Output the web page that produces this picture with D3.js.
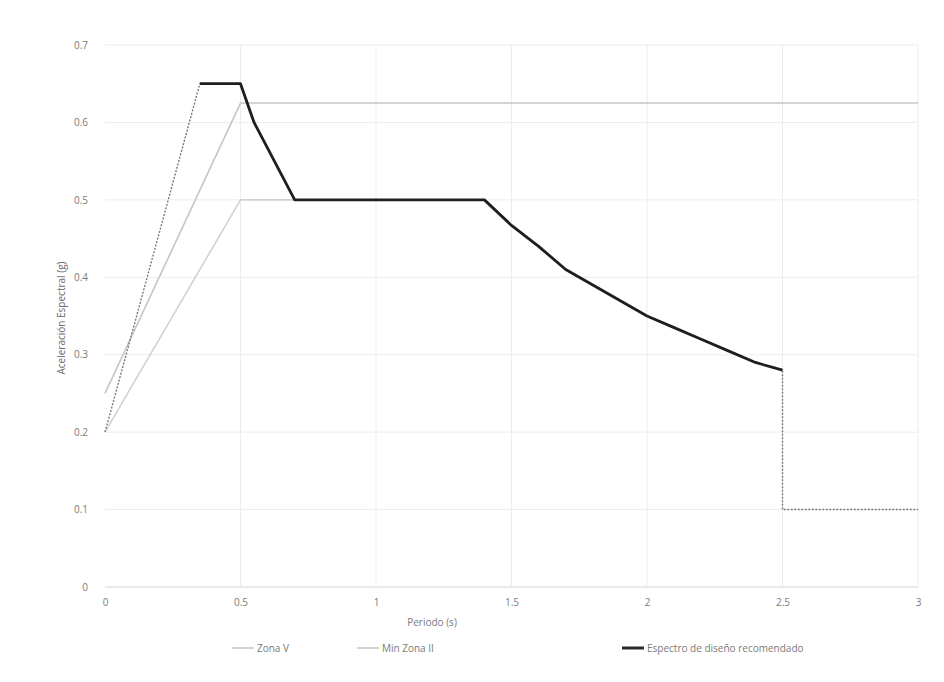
<!DOCTYPE html>
<html><head><meta charset="utf-8">
<script src="https://cdn.jsdelivr.net/npm/d3@7"></script>
<style>
html,body{margin:0;padding:0;background:#fff;}
text{font-family:"Open Sans","Liberation Sans",sans-serif;fill:#7a7a7a;}
</style></head>
<body><svg id="c" width="944" height="682"></svg>
<script>
// ---- data ----
const xTicks = [0, 0.5, 1, 1.5, 2, 2.5, 3];
const yTicks = [0, 0.1, 0.2, 0.3, 0.4, 0.5, 0.6, 0.7];
const xTickLabels = ["0", "0.5", "1", "1.5", "2", "2.5", "3"];
const yTickLabels = ["0", "0.1", "0.2", "0.3", "0.4", "0.5", "0.6", "0.7"];

const zonaVPeriod = [0, 0.5, 0.7, 1.4];
const zonaVValue  = [0.2, 0.5, 0.5, 0.5];

const minZonaIIPeriod = [0, 0.5, 3];
const minZonaIIValue  = [0.25, 0.625, 0.625];

const recPeriod = [0, 0.35, 0.5, 0.55, 0.7, 1.4, 1.5, 1.6, 1.7, 1.8, 1.9, 2.0, 2.1, 2.2, 2.3, 2.4, 2.5, 2.5, 3];
const recValue  = [0.2, 0.65, 0.65, 0.6, 0.5, 0.5, 0.467, 0.44, 0.41, 0.39, 0.37, 0.35, 0.335, 0.32, 0.305, 0.29, 0.28, 0.1, 0.1];

const legendLabels = ["Zona V", "Min Zona II", "Espectro de diseño recomendado"];

// ---- chart ----
const svg = d3.select("#c");
const x = d3.scaleLinear().domain([0, 3]).range([105, 918]);
const y = d3.scaleLinear().domain([0, 0.7]).range([587, 45]);

// gridlines
svg.append("g").selectAll("line.h").data(yTicks).join("line")
  .attr("x1", x(0)).attr("x2", x(3))
  .attr("y1", d => y(d)).attr("y2", d => y(d))
  .attr("stroke", d => d === 0 ? "#d4d4d4" : "#ececec").attr("stroke-width", 1);
svg.append("g").selectAll("line.v").data(xTicks.filter(d => d > 0)).join("line")
  .attr("x1", d => x(d)).attr("x2", d => x(d))
  .attr("y1", y(0)).attr("y2", y(0.7))
  .attr("stroke", "#ececec").attr("stroke-width", 1);

// axes via d3 axis generators (labels only)
const yAxis = d3.axisLeft(y).tickValues(yTicks).tickFormat((d, i) => yTickLabels[i]).tickSize(0).tickPadding(17);
const gy = svg.append("g").attr("transform", `translate(${x(0)},0)`).call(yAxis);
gy.select(".domain").remove();
gy.selectAll("text").style("font-size", "10px").attr("fill", "#7a7a7a");

const xAxis = d3.axisBottom(x).tickValues(xTicks).tickFormat((d, i) => xTickLabels[i]).tickSize(0).tickPadding(12);
const gx = svg.append("g").attr("transform", `translate(0,${y(0)})`).call(xAxis);
gx.select(".domain").remove();
gx.selectAll("text").style("font-size", "10px").attr("fill", "#7a7a7a");

// axis titles
svg.append("text").attr("x", 432).attr("y", 626).attr("text-anchor", "middle")
  .style("font-size", "10px").text("Periodo (s)");
svg.append("text").attr("transform", "translate(65,318) rotate(-90)").attr("text-anchor", "middle")
  .style("font-size", "10px").style("fill", "#6a6a6a").text("Aceleración Espectral (g)");

const line = d3.line().x(d => x(d[0])).y(d => y(d[1]));
const zip = (a, b) => a.map((v, i) => [v, b[i]]);

const zonaV = zip(zonaVPeriod, zonaVValue);
const minZ = zip(minZonaIIPeriod, minZonaIIValue);
const rec = zip(recPeriod, recValue);

svg.append("path").datum(zonaV).attr("d", line).attr("fill", "none")
  .attr("stroke", "#d2d2d2").attr("stroke-width", 1.6);
svg.append("path").datum(minZ).attr("d", line).attr("fill", "none")
  .attr("stroke", "#c6c6c6").attr("stroke-width", 1.6);

// recommended spectrum: full envelope dotted, main branch thick
svg.append("path").datum(rec).attr("d", line).attr("fill", "none")
  .attr("stroke", "#7a7a7a").attr("stroke-width", 1.4).attr("stroke-dasharray", "2,1.5");
const dropIdx = rec.findIndex((d, i) => i > 0 && rec[i-1][0] === d[0]);
const recMain = rec.slice(0, dropIdx).filter(d => d[0] >= 0.35);
svg.append("path").datum(recMain).attr("d", line).attr("fill", "none")
  .attr("stroke", "#1e1e1e").attr("stroke-width", 2.8).attr("stroke-linejoin", "round");

// legend
const legendX = [232, 357, 622];
const legendStroke = ["#c8c8c8", "#c8c8c8", "#2a2a2a"];
const legendW = [1.6, 1.6, 3];
const lg = svg.append("g");
legendLabels.forEach((lab, i) => {
  lg.append("line").attr("x1", legendX[i]).attr("x2", legendX[i] + 22)
    .attr("y1", 648).attr("y2", 648).attr("stroke", legendStroke[i]).attr("stroke-width", legendW[i]);
  lg.append("text").attr("x", legendX[i] + 25).attr("y", 652)
    .style("font-size", "10px").text(lab);
});
</script></body></html>
